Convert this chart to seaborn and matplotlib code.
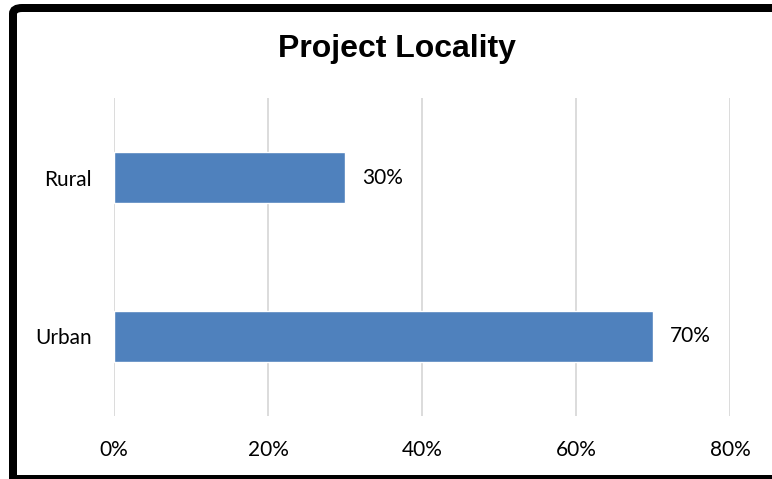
import matplotlib
matplotlib.use("Agg")
import matplotlib.pyplot as plt
from matplotlib.patches import FancyBboxPatch
from matplotlib.lines import Line2D
from matplotlib.ticker import PercentFormatter
import seaborn as sns
import pandas as pd

categories = ["Rural", "Urban"]
shares = [0.30, 0.70]
x_ticks = [0.0, 0.2, 0.4, 0.6, 0.8]
title = "Project Locality"

sns.set_theme(style="white")
plt.rcParams["font.family"] = ["Lato", "DejaVu Sans"]
plt.rcParams["text.color"] = "#000000"

W, H = 772, 479
fig = plt.figure(figsize=(W / 100, H / 100), dpi=100)
ax = fig.add_axes([114 / W, 1 - 416 / H, (730 - 114) / W, (416 - 98) / H])

df = pd.DataFrame({"locality": categories, "share": shares})
sns.barplot(data=df, y="locality", x="share", orient="h", color="#4F81BD",
            saturation=1, width=0.315, ax=ax)

ax.set_xlim(0, 0.8)
ax.set_ylim(1.5, -0.5)
ax.set_xticks(x_ticks)
ax.xaxis.set_major_formatter(PercentFormatter(1.0, decimals=0))
ax.grid(axis="x", color="#D9D9D9", linewidth=1.3)
ax.set_axisbelow(True)
for s in ax.spines.values():
    s.set_visible(False)
ax.set_xlabel("")
ax.set_ylabel("")
ax.tick_params(axis="both", length=0, labelsize=15, colors="#000000")
ax.tick_params(axis="x", pad=17)
ax.tick_params(axis="y", pad=16)

for container in ax.containers:
    ax.bar_label(container, labels=[f"{v:.0%}" for v in shares], padding=12,
                 fontsize=15, color="#000000")

fig.text(397 / W, 1 - 57 / H, title, ha="center", va="baseline", color="#000000",
         fontsize=23, fontweight="bold", family=["Liberation Sans", "DejaVu Sans"])

# rounded frame around the chart, running off the right and bottom edges
frame = FancyBboxPatch((13 / W, 1 - 520 / H), (790 - 13) / W, (520 - 8) / H,
                       boxstyle="round,pad=0,rounding_size=0.012",
                       transform=fig.transFigure, fill=False,
                       edgecolor="#000000", linewidth=8 * 0.72, clip_on=False)
fig.patches.append(frame)
fig.lines.append(Line2D([9 / W, 1.0], [1 - 479 / H, 1 - 479 / H],
                        transform=fig.transFigure, color="#000000",
                        linewidth=8 * 0.72, solid_capstyle="butt"))

fig.savefig("out.png", dpi=100, facecolor="white")
